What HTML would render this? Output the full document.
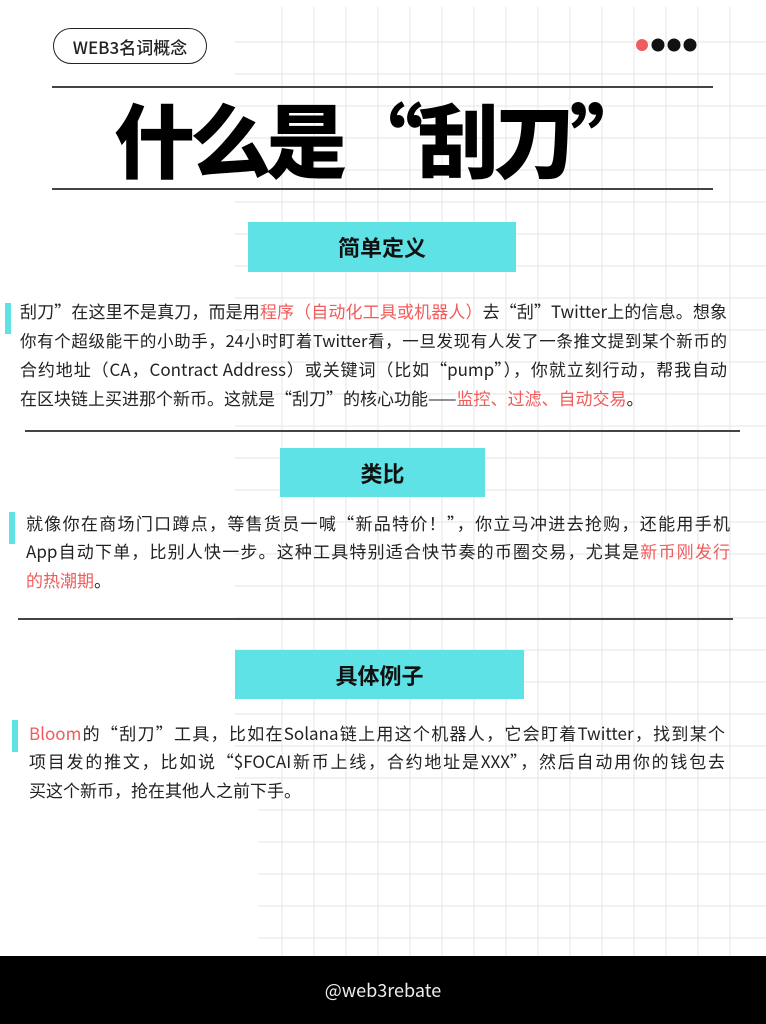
<!DOCTYPE html>
<html><head><meta charset="utf-8"><style>
*{margin:0;padding:0;box-sizing:border-box}
body{width:766px;height:1024px;position:relative;overflow:hidden;background:#fff;font-family:"Noto Sans CJK SC","Liberation Sans",sans-serif;color:#222}
.abs{position:absolute}
.grid{position:absolute;left:0;top:0;width:766px;height:956px}
.ln{position:absolute;white-space:nowrap;font-size:17px;line-height:28px;text-align:justify;text-align-last:justify;overflow:visible}
.last{text-align-last:left}
.r{color:#f25b5b}
.box{position:absolute;background:#5ee2e6;font-weight:bold;font-size:22px;display:flex;align-items:center;justify-content:center;color:#111}
.bar{position:absolute;width:6px;background:#5ee2e6}
.hr{position:absolute;height:1.5px;background:#444}
</style></head><body>
<svg class="grid" width="766" height="956">
<g stroke="#e6e6e6" stroke-width="1">
<line x1="282" y1="7" x2="282" y2="956"/><line x1="314" y1="7" x2="314" y2="956"/><line x1="346" y1="7" x2="346" y2="956"/><line x1="378" y1="7" x2="378" y2="956"/><line x1="410" y1="7" x2="410" y2="956"/><line x1="442" y1="7" x2="442" y2="956"/><line x1="474" y1="7" x2="474" y2="956"/><line x1="506" y1="7" x2="506" y2="956"/><line x1="538" y1="7" x2="538" y2="956"/><line x1="570" y1="7" x2="570" y2="956"/><line x1="602" y1="7" x2="602" y2="956"/><line x1="634" y1="7" x2="634" y2="956"/><line x1="666" y1="7" x2="666" y2="956"/><line x1="698" y1="7" x2="698" y2="956"/><line x1="730" y1="7" x2="730" y2="956"/>
<line x1="235" y1="42" x2="766" y2="42"/><line x1="235" y1="74" x2="766" y2="74"/><line x1="235" y1="106" x2="766" y2="106"/><line x1="235" y1="138" x2="766" y2="138"/><line x1="235" y1="170" x2="766" y2="170"/><line x1="235" y1="202" x2="766" y2="202"/><line x1="235" y1="234" x2="766" y2="234"/><line x1="235" y1="266" x2="766" y2="266"/><line x1="235" y1="298" x2="766" y2="298"/><line x1="235" y1="330" x2="766" y2="330"/><line x1="235" y1="362" x2="766" y2="362"/><line x1="235" y1="394" x2="766" y2="394"/><line x1="235" y1="426" x2="766" y2="426"/><line x1="235" y1="458" x2="766" y2="458"/><line x1="235" y1="490" x2="766" y2="490"/><line x1="235" y1="522" x2="766" y2="522"/><line x1="235" y1="554" x2="766" y2="554"/><line x1="235" y1="586" x2="766" y2="586"/><line x1="235" y1="618" x2="766" y2="618"/><line x1="235" y1="650" x2="766" y2="650"/><line x1="235" y1="682" x2="766" y2="682"/><line x1="235" y1="714" x2="766" y2="714"/><line x1="235" y1="746" x2="766" y2="746"/><line x1="235" y1="778" x2="766" y2="778"/><line x1="258" y1="810" x2="766" y2="810"/><line x1="258" y1="842" x2="766" y2="842"/><line x1="258" y1="874" x2="766" y2="874"/><line x1="258" y1="906" x2="766" y2="906"/><line x1="258" y1="938" x2="766" y2="938"/>
</g></svg>
<div class="abs" style="left:53px;top:28px;width:154px;height:36px;border:1.5px solid #222;border-radius:18px;font-size:17px;font-weight:500;display:flex;align-items:center;justify-content:center;background:#fff">WEB3名词概念</div>
<svg class="abs" style="left:630px;top:35px" width="75" height="20"><circle cx="12" cy="10" r="6" fill="#f25b5b"/><circle cx="28" cy="10" r="6.5" fill="#111"/><circle cx="44" cy="10" r="6.5" fill="#111"/><circle cx="60" cy="10" r="6.5" fill="#111"/></svg>
<div class="hr" style="left:52px;top:86px;width:661px"></div>
<div class="abs" style="left:114px;top:90px;width:510px;height:95px;font-size:81px;font-weight:900;line-height:95px;white-space:nowrap;color:#000;letter-spacing:-5px;font-family:'Noto Sans CJK SC',sans-serif">什么是“刮刀”</div>
<div class="hr" style="left:52px;top:188px;width:661px"></div>

<div class="box" style="left:248px;top:222px;width:268px;height:50px">简单定义</div>
<div class="bar" style="left:5px;top:303px;height:31px"></div>
<div class="ln" style="left:20px;top:297px;width:707px">刮刀”在这里不是真刀，而是用<span class="r">程序（自动化工具或机器人）</span>去“刮”Twitter上的信息。想象</div>
<div class="ln" style="left:20px;top:326px;width:707px;font-size:16.5px">你有个超级能干的小助手，24小时盯着Twitter看，一旦发现有人发了一条推文提到某个新币的</div>
<div class="ln" style="left:20px;top:355px;width:707px">合约地址（CA，Contract Address）或关键词（比如“pump”），你就立刻行动，帮我自动</div>
<div class="ln last" style="left:20px;top:384px;width:707px">在区块链上买进那个新币。这就是“刮刀”的核心功能——<span class="r">监控、过滤、自动交易</span>。</div>
<div class="hr" style="left:25px;top:430px;width:715px"></div>

<div class="box" style="left:280px;top:448px;width:205px;height:49px">类比</div>
<div class="bar" style="left:9px;top:512px;height:32px"></div>
<div class="ln" style="left:26px;top:509px;width:704px">就像你在商场门口蹲点，等售货员一喊“新品特价！”，你立马冲进去抢购，还能用手机</div>
<div class="ln" style="left:26px;top:537px;width:704px">App自动下单，比别人快一步。这种工具特别适合快节奏的币圈交易，尤其是<span class="r">新币刚发行</span></div>
<div class="ln last" style="left:26px;top:566px;width:704px"><span class="r">的热潮期</span>。</div>
<div class="hr" style="left:18px;top:618px;width:715px"></div>

<div class="box" style="left:235px;top:650px;width:289px;height:49px">具体例子</div>
<div class="bar" style="left:12px;top:720px;height:32px"></div>
<div class="ln" style="left:29px;top:719px;width:696px"><span class="r">Bloom</span>的“刮刀”工具，比如在Solana链上用这个机器人，它会盯着Twitter，找到某个</div>
<div class="ln" style="left:29px;top:747px;width:696px">项目发的推文，比如说“$FOCAI新币上线，合约地址是XXX”，然后自动用你的钱包去</div>
<div class="ln last" style="left:29px;top:776px;width:696px">买这个新币，抢在其他人之前下手。</div>

<div class="abs" style="left:0;top:956px;width:766px;height:68px;background:#000;color:#eee;font-size:18px;display:flex;align-items:center;justify-content:center">@web3rebate</div>
</body></html>
